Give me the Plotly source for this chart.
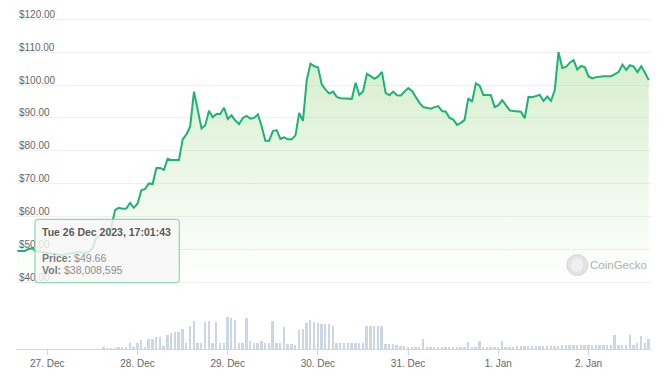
import pandas as pd
import plotly.graph_objects as go

W, H = 664, 378
OFF = 8  # the page body adds 8px margin; positions below are in screenshot pixels
PL, PR = 16, 651  # plot area left/right in screenshot pixels
L_M = PL - OFF
R_M = W - (PR - OFF)
PW = W - L_M - R_M

start_time = "2023-12-26 16:01:43"

prices = [
    49.6, 49.66, 49.6, 50.2, 50.4, 49.5, 49.3, 49.1, 49.0, 48.9,
    48.5, 48.4, 48.3, 48.6, 48.9, 49.1, 49.3, 49.2, 49.0, 49.3,
    50.4, 53.5, 54.4, 54.6, 54.7, 56.8, 62.0, 62.7, 62.4, 62.5,
    64.2, 62.7, 64.0, 68.0, 68.4, 70.1, 69.9, 74.8, 74.8, 74.2,
    77.6, 77.2, 77.2, 77.2, 83.5, 85.0, 87.5, 98.0, 92.5, 86.8,
    87.8, 92.2, 90.2, 91.2, 91.2, 93.1, 89.7, 90.8, 89.2, 88.1,
    90.0, 90.6, 89.8, 90.0, 91.1, 87.5, 83.1, 83.1, 86.0, 86.3,
    83.6, 84.1, 83.5, 83.5, 84.7, 91.5, 89.1, 101.5, 106.5, 105.7,
    105.4, 100.2, 98.6, 97.4, 98.0, 96.4, 96.0, 95.9, 95.9, 95.8,
    100.7, 97.0, 98.1, 103.4, 102.7, 101.9, 102.6, 104.0, 97.6, 96.9,
    98.0, 96.9, 96.8, 97.8, 99.1, 98.2, 96.3, 94.6, 93.3, 93.1,
    92.8, 93.3, 93.6, 92.1, 91.9, 90.0, 89.5, 87.9, 88.5, 89.4,
    96.0, 94.9, 100.5, 99.8, 97.0, 97.0, 96.9, 93.3, 93.9, 95.4,
    94.0, 92.3, 92.1, 92.1, 91.9, 89.9, 96.4, 96.3, 96.6, 97.0,
    95.2, 96.5, 95.2, 98.5, 110.0, 105.2, 105.5, 106.8, 107.6, 104.7,
    105.8, 105.4, 102.6, 102.0, 102.4, 102.6, 102.7, 102.7, 102.7, 103.3,
    104.0, 106.2, 104.6, 106.0, 105.6, 103.9, 105.7, 103.7, 101.5,
]

# 24h volume, millions of USD
volumes_musd = [
    38.0, 38.0, 38.1, 38.2, 38.3, 38.4, 38.6, 38.8, 39.0, 39.2,
    39.4, 39.6, 39.8, 40.0, 40.2, 40.4, 40.6, 40.8, 41.0, 41.2,
    41.5, 42.0, 44.0, 58, 48, 48, 48, 58, 58, 65,
    105, 65, 98, 131, 65, 138, 141, 158, 158, 71,
    181, 198, 208, 208, 238, 105, 275, 321, 105, 105,
    308, 325, 105, 308, 105, 105, 365, 355, 331, 105,
    105, 348, 121, 105, 105, 121, 105, 105, 321, 105,
    105, 265, 91, 91, 81, 231, 238, 298, 331, 308,
    298, 288, 291, 291, 275, 105, 105, 105, 105, 98,
    98, 98, 98, 271, 271, 271, 275, 275, 91, 91,
    91, 81, 71, 71, 65, 65, 65, 65, 138, 65,
    65, 65, 65, 65, 65, 65, 65, 65, 65, 65,
    111, 65, 65, 125, 65, 65, 65, 65, 65, 118,
    65, 66, 66, 67, 67, 68, 68, 69, 70, 70,
    71, 73, 74, 75, 76, 77, 78, 79, 80, 81,
    81, 82, 83, 83, 84, 84, 85, 85, 85, 181,
    81, 81, 81, 181, 81, 98, 171, 98, 141,
]

price_ticks = [40, 50, 60, 70, 80, 90, 100, 110, 120]
price_tick_text = ["$40.00", "$50.00", "$60.00", "$70.00", "$80.00",
                   "$90.00", "$100.00", "$110.00", "$120.00"]

day_ticks = ["2023-12-27", "2023-12-28", "2023-12-29", "2023-12-30",
             "2023-12-31", "2024-01-01", "2024-01-02"]
day_tick_text = ["27. Dec", "28. Dec", "29. Dec", "30. Dec",
                 "31. Dec", "1. Jan", "2. Jan"]

tooltip_title = "Tue 26 Dec 2023, 17:01:43"
tooltip_price = "$49.66"
tooltip_vol = "$38,008,595"

times = pd.date_range(start_time, periods=len(prices), freq="h")
HOUR = pd.Timedelta(hours=1)
x_range = [times[0] - 0.35 * HOUR, times[0] + 168.6 * HOUR]


def px_x(p):
    return (p - PL) / PW


def px_y(p):
    return 1 - (p - OFF) / H


FONT = "Liberation Sans, Arial, Helvetica, sans-serif"

# price pane: $120 gridline at y=19.2, $40 gridline at y=282.5 (screenshot px)
g_top, g_bot = 19.2, 282.5
ppd = (g_bot - g_top) / 80.0
dom_top_px, dom_bot_px = 9.0, 292.0
price_range = [40 - (dom_bot_px - g_bot) / ppd, 120 + (g_top - dom_top_px) / ppd]
price_dom = [px_y(dom_bot_px), px_y(dom_top_px)]

vol_base_px, vol_top_px = 349.3, 300.0
vol_dom = [px_y(vol_base_px), px_y(vol_top_px)]
vol_pane_px = vol_base_px - vol_top_px

fig = go.Figure()
fig.add_trace(go.Bar(
    x=times, y=volumes_musd, xaxis="x", yaxis="y2",
    marker=dict(color="#cdd6e5", line=dict(width=0)),
    width=0.5 * 3600000, hoverinfo="skip", showlegend=False,
))
fig.add_trace(go.Scatter(
    x=times, y=prices, xaxis="x", yaxis="y", mode="lines",
    line=dict(color="#1cb373", width=2),
    fill="tozeroy",
    fillgradient=dict(
        type="vertical", start=40, stop=110,
        colorscale=[[0, "rgba(120,200,90,0.0)"], [1, "rgba(120,200,90,0.30)"]],
    ),
    hoverinfo="skip", showlegend=False,
))

# tooltip box (rounded rectangle)
x0, x1, y0, y1, r = 35.0, 179.3, 219.3, 282.7, 3.0
rx, ry = r / PW, r / H
X0, X1, Y0, Y1 = px_x(x0), px_x(x1), px_y(y1), px_y(y0)
path = (f"M {X0+rx},{Y1} L {X1-rx},{Y1} Q {X1},{Y1} {X1},{Y1-ry} "
        f"L {X1},{Y0+ry} Q {X1},{Y0} {X1-rx},{Y0} L {X0+rx},{Y0} "
        f"Q {X0},{Y0} {X0},{Y0+ry} L {X0},{Y1-ry} Q {X0},{Y1} {X0+rx},{Y1} Z")
shapes = [
    dict(type="path", path=path, xref="paper", yref="paper",
         fillcolor="rgba(246,246,246,0.82)", line=dict(color="#6fd3a6", width=1),
         layer="above"),
    # watermark logo
    dict(type="circle", xref="paper", yref="paper",
         x0=px_x(566.8), x1=px_x(587.8), y0=px_y(275.5), y1=px_y(254.5),
         fillcolor="#e3e3e3", line=dict(color="#d6d6d6", width=1), layer="above"),
    dict(type="circle", xref="paper", yref="paper",
         x0=px_x(571), x1=px_x(583), y0=px_y(272), y1=px_y(258),
         fillcolor="#f0f0f0", line=dict(width=0), layer="above"),
]

TX = 39.5
annotations = [
    dict(xref="paper", yref="paper", x=px_x(TX), y=px_y(231.7),
         xanchor="left", yanchor="middle", showarrow=False,
         text=f"<b>{tooltip_title}</b>",
         font=dict(family=FONT, size=10.5, color="#5a5a5a")),
    dict(xref="paper", yref="paper", x=px_x(TX), y=px_y(257.7),
         xanchor="left", yanchor="middle", showarrow=False,
         text=f"<b>Price:</b> <span style='color:#8f8f8f'>{tooltip_price}</span>",
         font=dict(family=FONT, size=10.5, color="#7a7a7a")),
    dict(xref="paper", yref="paper", x=px_x(TX), y=px_y(270.0),
         xanchor="left", yanchor="middle", showarrow=False,
         text=f"<b>Vol:</b> <span style='color:#8f8f8f'>{tooltip_vol}</span>",
         font=dict(family=FONT, size=10.5, color="#7a7a7a")),
    dict(xref="paper", yref="paper", x=px_x(588), y=px_y(265),
         xanchor="left", yanchor="middle", showarrow=False,
         text="CoinGecko",
         font=dict(family=FONT, size=11.5, color="#b0b0b0")),
]

fig.update_layout(
    width=W, height=H,
    margin=dict(l=L_M, r=R_M, t=0, b=0, pad=0),
    paper_bgcolor="white", plot_bgcolor="rgba(0,0,0,0)",
    hovermode=False, showlegend=False, bargap=0,
    font=dict(family=FONT, size=10, color="#666666"),
    xaxis=dict(
        type="date", range=x_range, anchor="y2",
        showgrid=False, zeroline=False,
        showline=True, linecolor="#ccd6eb", linewidth=1,
        ticks="outside", ticklen=5, tickcolor="#ccd6eb", tickwidth=1,
        tickmode="array", tickvals=day_ticks, ticktext=day_tick_text,
        ticklabeloverflow="allow",
        tickfont=dict(family=FONT, size=10, color="#666666"),
    ),
    yaxis=dict(
        domain=price_dom, range=price_range, anchor="x",
        tickvals=price_ticks, ticktext=price_tick_text,
        showgrid=True, gridcolor="#f0f0f0", gridwidth=1,
        zeroline=False, showline=False, ticks="",
        ticklabelposition="inside", ticklabelshift=-5, ticklabelstandoff=0,
        ticklabeloverflow="allow",
        tickfont=dict(family=FONT, size=10, color="#666666"),
    ),
    yaxis2=dict(
        domain=vol_dom, range=[38, 38 + 10 * vol_pane_px], anchor="x",
        visible=False, showgrid=False, zeroline=False,
    ),
    shapes=shapes, annotations=annotations,
)

fig.write_html("out.html")
